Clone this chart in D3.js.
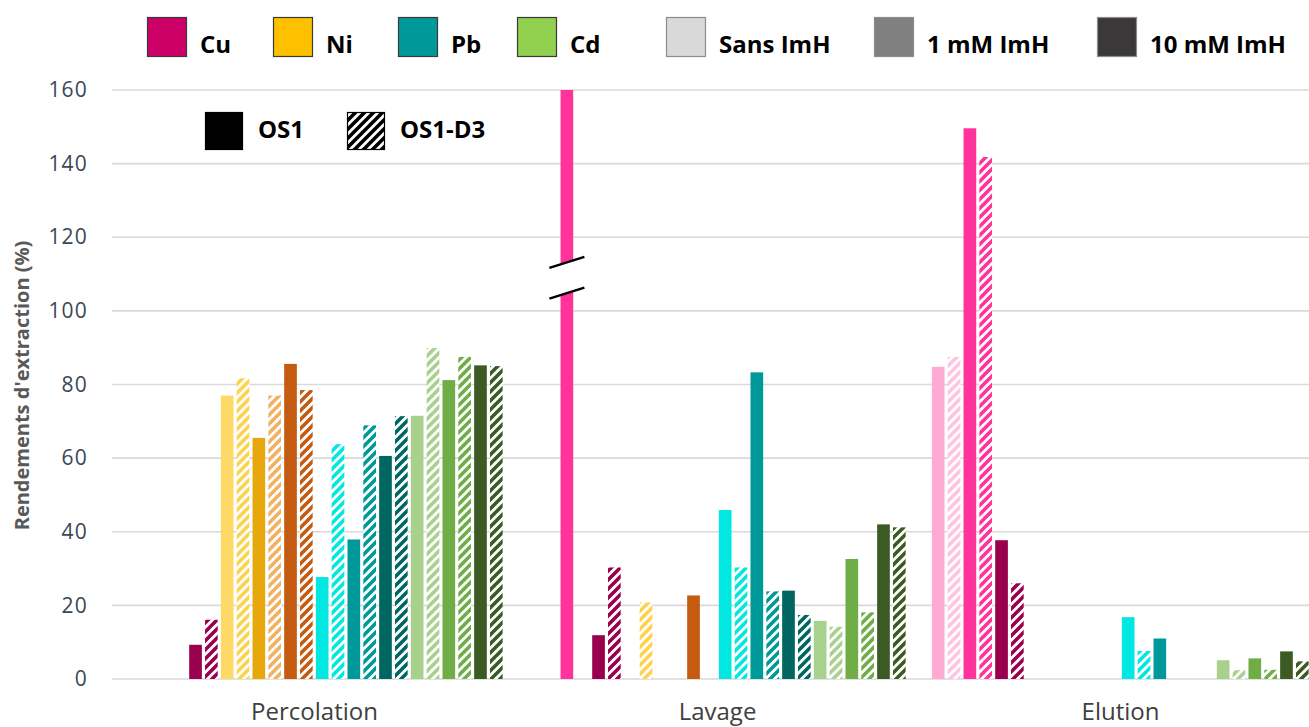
<!DOCTYPE html>
<html>
<head>
<meta charset="utf-8">
<script src="https://cdn.jsdelivr.net/npm/d3@7"></script>
<style>
  html, body { margin: 0; padding: 0; background: #fff; }
  svg { display: block; font-family: "Open Sans", "Noto Sans", sans-serif; }
</style>
</head>
<body>
<svg id="chart" width="1309" height="727"></svg>
<script>
// Extraction phases (x groups)
const phases = ["Percolation", "Lavage", "Elution"];
// Metals, imidazole levels and materials (bar order inside each phase)
const metals = ["Cu", "Ni", "Pb", "Cd"];
const imhLevels = ["Sans ImH", "1 mM ImH", "10 mM ImH"];
const materials = ["OS1", "OS1-D3"];

// Extraction yields (%), ordered metal > ImH level > material
const percolationValues = [0, 0, 0, 0, 9.3, 16.1,
                           77.0, 81.7, 65.5, 77.0, 85.6, 78.5,
                           27.7, 63.8, 37.9, 68.9, 60.6, 71.4,
                           71.5, 89.9, 81.2, 87.5, 85.2, 85.0];
const lavageValues = [0, 0, 160, 0, 11.9, 30.3,
                      0, 20.8, 0, 0, 22.7, 0,
                      45.9, 30.3, 83.3, 23.8, 24.0, 17.4,
                      15.8, 14.2, 32.6, 18.1, 42.0, 41.2];
const elutionValues = [84.8, 87.5, 149.6, 141.8, 37.7, 26.0,
                       0, 0, 0, 0, 0, 0,
                       16.8, 7.6, 11.0, 0, 0, 0,
                       5.1, 2.4, 5.6, 2.5, 7.5, 4.8];
const phaseValues = [percolationValues, lavageValues, elutionValues];

// The Cu / 1 mM bar in Lavage runs off the axis and is drawn with a break
const brokenBars = [{ phase: "Lavage", metal: "Cu", imh: "1 mM ImH", material: "OS1" }];
const breakRange = [104.8, 113.2];

const yTicks = [0, 20, 40, 60, 80, 100, 120, 140, 160];

// Fill colours [solid, hatched] per metal and ImH level
const barColors = {
  "Cu": [["#ffaad4", "#ffc4e1"], ["#ff3399", "#ff3399"], ["#99004d", "#99004d"]],
  "Ni": [["#ffd966", "#ffd24d"], ["#e6a80c", "#f4b062"], ["#c55a11", "#c55a11"]],
  "Pb": [["#00e8e1", "#00e8e1"], ["#009999", "#009999"], ["#006661", "#006661"]],
  "Cd": [["#a9d18e", "#a9d18e"], ["#70ad47", "#70ad47"], ["#3b5a24", "#3b5a24"]]
};
const metalLegendColors = ["#cc0066", "#ffc000", "#009999", "#92d050"];
const imhLegendColors = ["#d9d9d9", "#808080", "#3a3838"];

// Flatten into bar records
const bars = [];
phases.forEach((ph, pi) => {
  let k = 0;
  metals.forEach(m => {
    imhLevels.forEach((lv, li) => {
      materials.forEach((mat, mi) => {
        bars.push({
          phase: ph, metal: m, imh: lv, material: mat,
          slot: k, value: phaseValues[pi][k],
          color: barColors[m][li][mi], hatched: mi === 1
        });
        k++;
      });
    });
  });
});
const slotIds = d3.range(24);

const svg = d3.select("#chart");
const plotLeft = 113, plotRight = 1322, plotTop = 90, plotBottom = 679;

const x0 = d3.scaleBand().domain(phases).range([plotLeft, plotRight]).paddingInner(0).paddingOuter(0);
const x1 = d3.scaleBand().domain(slotIds).range([11.3, 11.3 + 24 * 15.83]).paddingInner(0.2).paddingOuter(0.1);
const y = d3.scaleLinear().domain([0, 160]).range([plotBottom, plotTop]);

// Hatch patterns ("/" stripes on white)
const defs = svg.append("defs");
const hatchId = c => "hatch-" + c.replace("#", "");
const hatchColors = Array.from(new Set(bars.filter(b => b.hatched).map(b => b.color).concat(["#000000"])));
hatchColors.forEach(c => {
  const p = defs.append("pattern")
    .attr("id", hatchId(c))
    .attr("patternUnits", "userSpaceOnUse")
    .attr("width", 9).attr("height", 9);
  p.append("rect").attr("width", 9).attr("height", 9).attr("fill", "#fff");
  p.append("path")
    .attr("d", "M-3,12 L12,-3 M-3,3 L3,-3 M6,12 L12,6")
    .attr("stroke", c).attr("stroke-width", 3.6).attr("fill", "none");
});
const fillOf = b => b.hatched ? `url(#${hatchId(b.color)})` : b.color;

// Gridlines
svg.append("g")
  .selectAll("line")
  .data(yTicks)
  .join("line")
  .attr("x1", plotLeft - 1).attr("x2", 1309)
  .attr("y1", d => y(d)).attr("y2", d => y(d))
  .attr("stroke", "#d9d9d9").attr("stroke-width", 1.6);

// Y axis labels
const yAxis = d3.axisLeft(y).tickValues(yTicks).tickSize(0).tickPadding(0);
const yg = svg.append("g").attr("transform", "translate(88,0)").call(yAxis);
yg.select(".domain").remove();
yg.selectAll("text")
  .attr("font-family", "'Open Sans', sans-serif")
  .attr("font-size", 21).attr("letter-spacing", 1.2)
  .attr("fill", "#3b4656");

svg.append("text")
  .attr("transform", `translate(29,${(plotTop + plotBottom) / 2 + 1}) rotate(-90)`)
  .attr("text-anchor", "middle")
  .attr("font-size", 20).attr("font-weight", 700).attr("fill", "#595959")
  .text("Rendements d'extraction (%)");

// X axis labels
const xAxis = d3.axisBottom(x0).tickSize(0).tickPadding(0);
const xg = svg.append("g").attr("transform", "translate(0,703)").call(xAxis);
xg.select(".domain").remove();
xg.selectAll("text")
  .attr("font-family", "'Open Sans', sans-serif")
  .attr("font-size", 24).attr("fill", "#404040").attr("dy", "0.71em");

// Bars
const barG = svg.append("g");
barG.selectAll("rect")
  .data(bars.filter(b => b.value > 0))
  .join("rect")
  .attr("x", b => x0(b.phase) + x1(b.slot))
  .attr("width", x1.bandwidth())
  .attr("y", b => y(Math.min(b.value, 160)))
  .attr("height", b => y(0) - y(Math.min(b.value, 160)))
  .attr("fill", fillOf);

// Axis break on the off-scale bar
brokenBars.forEach(bb => {
  const b = bars.find(d => d.phase === bb.phase && d.metal === bb.metal && d.imh === bb.imh && d.material === bb.material);
  const cx = x0(b.phase) + x1(b.slot) + x1.bandwidth() / 2;
  const half = 17.5, rise = 5.5;
  const yl = y(breakRange[0]), yh = y(breakRange[1]);
  svg.append("polygon")
    .attr("points", [[cx - half, yh + rise], [cx + half, yh - rise], [cx + half, yl - rise], [cx - half, yl + rise]].join(" "))
    .attr("fill", "#fff");
  [yh, yl].forEach(yy => {
    svg.append("line")
      .attr("x1", cx - half).attr("y1", yy + rise)
      .attr("x2", cx + half).attr("y2", yy - rise)
      .attr("stroke", "#000").attr("stroke-width", 2.4);
  });
});

// Top legend: metals and ImH levels
const legendItems = metals.map((m, i) => ({ label: m, color: metalLegendColors[i] }))
  .concat(imhLevels.map((l, i) => ({ label: l, color: imhLegendColors[i] })));
const legendX = [147, 273, 398, 517, 666, 874, 1097];
const lg = svg.append("g");
legendItems.forEach((it, i) => {
  const g = lg.append("g").attr("transform", `translate(${legendX[i]},17)`);
  g.append("rect").attr("x", 0.5).attr("y", 0.5).attr("width", 39).attr("height", 39)
    .attr("fill", it.color).attr("stroke", i >= 4 ? "#8c8c8c" : "#3a3a3a").attr("stroke-width", 1.2);
  g.append("text").attr("x", 53).attr("y", 36)
    .attr("font-size", 24).attr("font-weight", 700).attr("fill", "#000")
    .text(it.label);
});

// Material legend: OS1 (solid) vs OS1-D3 (hatched)
const matX = [205, 347];
materials.forEach((mat, i) => {
  const g = svg.append("g").attr("transform", `translate(${matX[i]},112)`);
  g.append("rect").attr("x", 0.5).attr("y", 0.5).attr("width", 37).attr("height", 37)
    .attr("fill", i === 0 ? "#000" : `url(#${hatchId("#000000")})`)
    .attr("stroke", "#000").attr("stroke-width", 1.2);
  g.append("text").attr("x", 53).attr("y", 26)
    .attr("font-size", 24).attr("font-weight", 700).attr("fill", "#000")
    .text(mat);
});
</script>
</body>
</html>
